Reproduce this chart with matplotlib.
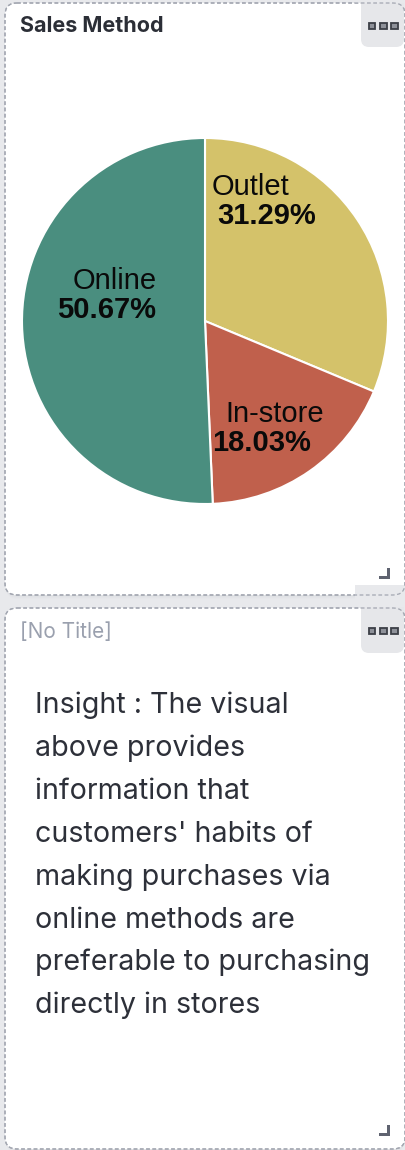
import matplotlib
matplotlib.use("Agg")
import matplotlib.pyplot as plt
from matplotlib.patches import FancyBboxPatch, Rectangle, Polygon

# ---------------- data ----------------
categories = ["Outlet", "In-store", "Online"]
shares = [31.29, 18.03, 50.67]
colors = ["#D4C26A", "#C0604C", "#4A8E7F"]
title_1 = "Sales Method"
title_2 = "[No Title]"
insight_lines = [
    "Insight : The visual",
    "above provides",
    "information that",
    "customers' habits of",
    "making purchases via",
    "online methods are",
    "preferable to purchasing",
    "directly in stores",
]

# label anchor positions (data coords of pie axes, radius 1): (name, value)
label_pos = [((0.246, 0.689), (0.339, 0.530)),
             ((0.383, -0.552), (0.311, -0.710)),
             ((-0.492, 0.175), (-0.536, 0.016))]

W, H = 406, 1150
fig = plt.figure(figsize=(W / 100, H / 100), dpi=100)
fig.patch.set_facecolor("#E8E9EC")

bg = fig.add_axes([0, 0, 1, 1])
bg.set_xlim(0, W)
bg.set_ylim(H, 0)
bg.axis("off")

def card(x0, y0, x1, y1):
    for i, a in enumerate([0.05, 0.04, 0.03]):
        sh = FancyBboxPatch((x0 + 1, y0 + 2 + i), x1 - x0 - 2, y1 - y0,
                            boxstyle="round,pad=0,rounding_size=12",
                            fc="#B0B3BA", ec="none", alpha=a, zorder=1)
        bg.add_patch(sh)
    p = FancyBboxPatch((x0, y0), x1 - x0, y1 - y0,
                       boxstyle="round,pad=0,rounding_size=12",
                       fc="white", ec="#A3A7B1", lw=0.9, ls=(0, (3, 2)), zorder=2)
    bg.add_patch(p)

def menu(x0, y0, x1, y1):
    m = FancyBboxPatch((x0, y0 - 12), x1 - x0 - 1, y1 - y0 + 12,
                       boxstyle="round,pad=0,rounding_size=8",
                       fc="#E6E7EA", ec="none", zorder=3)
    bg.add_patch(m)
    cy = y0 + 23
    for cx in [372, 383.7, 394.5]:
        bg.add_patch(Rectangle((cx - 3.2, cy - 3.2), 6.4, 6.4, fc="#8E9199",
                               ec="#3C3F47", lw=1.3, zorder=5))

def corner(x1, y1):
    bg.add_patch(Polygon([(x1 - 11, y1 - 3), (x1 - 3, y1 - 3), (x1 - 3, y1 - 11),
                          (x1, y1 - 11), (x1, y1), (x1 - 11, y1)],
                         closed=True, fc="#5F6370", ec="none", zorder=5))

# card 1
card(5, 3, 405, 595)
menu(361, 3, 405, 47)
bg.add_patch(FancyBboxPatch((5, 3), 400, 592, boxstyle="round,pad=0,rounding_size=12",
                            fc="none", ec="#A3A7B1", lw=0.9, ls=(0, (3, 2)), zorder=6))
bg.add_patch(Rectangle((355, -20), 60, 22.5, fc="#E8E9EC", ec="none", zorder=4))
bg.text(20, 26, title_1, fontsize=15.5, fontweight="bold", family=["Inter", "DejaVu Sans"],
        color="#2B2E36", va="center", ha="left", zorder=7)
corner(390, 579)

# card 2
card(5, 608, 405, 1149)
menu(361, 608, 405, 653)
bg.add_patch(FancyBboxPatch((5, 608), 400, 541, boxstyle="round,pad=0,rounding_size=12",
                            fc="none", ec="#A3A7B1", lw=0.9, ls=(0, (3, 2)), zorder=6))
bg.add_patch(Rectangle((355, 585), 60, 22.3, fc="#E8E9EC", ec="none", zorder=4))
bg.text(20, 632, title_2, fontsize=15, family=["Inter", "DejaVu Sans"],
        color="#9AA0AE", va="center", ha="left", zorder=7)
corner(390, 1136)

for i, line in enumerate(insight_lines):
    bg.text(35, 713 + 42.9 * i, line, fontsize=20.6, family=["Inter", "DejaVu Sans"],
            color="#2D3039", va="baseline", ha="left", zorder=7)

# pie
cx, cy, r = 205, 321, 183
pax = fig.add_axes([(cx - r) / W, (H - cy - r) / H, 2 * r / W, 2 * r / H])
pax.set_zorder(10)
pax.pie(shares, colors=colors, startangle=90, counterclock=False, radius=1,
        wedgeprops=dict(edgecolor="white", linewidth=1.5))
pax.set_xlim(-1, 1)
pax.set_ylim(-1, 1)
pax.set_aspect("equal")
pax.axis("off")

for name, val, (p_name, p_val) in zip(categories, shares, label_pos):
    pax.text(p_name[0], p_name[1], name, fontsize=21, family=["Liberation Sans", "DejaVu Sans"],
             color="#0A0A0A", ha="center", va="baseline")
    pax.text(p_val[0], p_val[1], f"{val:.2f}%", fontsize=21, fontweight="bold",
             family=["Liberation Sans", "DejaVu Sans"], color="#0A0A0A", ha="center", va="baseline")

fig.savefig("out.png", dpi=100, facecolor=fig.get_facecolor())
